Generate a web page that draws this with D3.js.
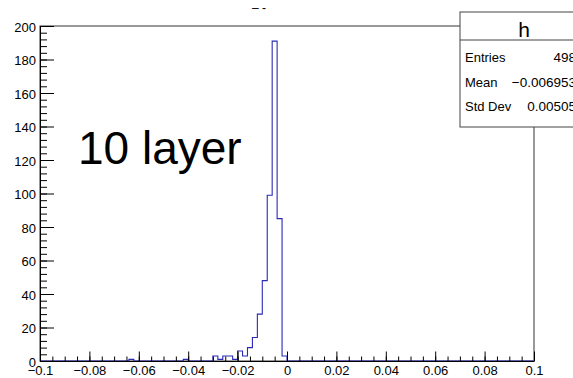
<!DOCTYPE html>
<html>
<head>
<meta charset="utf-8">
<script src="https://cdn.jsdelivr.net/npm/d3@7"></script>
<style>
  body { margin: 0; background: #fff; }
  svg { font-family: "Liberation Sans", Arial, sans-serif; }
</style>
</head>
<body>
<svg id="c" width="573" height="378"></svg>
<script>
// histogram "h": 100 bins from -0.1 to 0.1
const xMin = -0.1, xMax = 0.1, nBins = 100;
const counts = [
  0,0,0,0,0,0,0,0,0,0, 0,0,0,0,0,0,0,0,1,0,
  0,0,0,0,0,0,0,0,0,1, 0,0,0,0,0,3,1,3,3,1,
  6,3,8,14,28,48,99,191,85,3, 0,0,0,0,0,0,0,0,0,0,
  0,0,0,0,0,0,0,0,0,0, 0,0,0,0,0,0,0,0,0,0,
  0,0,0,0,0,0,0,0,0,0, 0,0,0,0,0,0,0,0,0,0
];
const yMax = 200;
const xTicks = [-0.1, -0.08, -0.06, -0.04, -0.02, 0, 0.02, 0.04, 0.06, 0.08, 0.1];
const xTickLabels = ["\u22120.1", "\u22120.08", "\u22120.06", "\u22120.04", "\u22120.02", "0", "0.02", "0.04", "0.06", "0.08", "0.1"];
const yTicks = [0, 20, 40, 60, 80, 100, 120, 140, 160, 180, 200];
const statNames = ["Entries", "Mean", "Std Dev"];
const statValues = ["498", "\u22120.006953", "0.00505"];
const histName = "h";
const label = "10 layer";

const svg = d3.select("#c");
const mLeft = 40, mRight = 534, mTop = 26, mBottom = 361;

const x = d3.scaleLinear().domain([xMin, xMax]).range([mLeft, mRight]);
const y = d3.scaleLinear().domain([0, yMax]).range([mBottom, mTop]);
const bw = (xMax - xMin) / nBins;

// frame
svg.append("rect")
  .attr("x", mLeft).attr("y", mTop)
  .attr("width", mRight - mLeft).attr("height", mBottom - mTop)
  .attr("fill", "#fff").attr("stroke", "#555").attr("stroke-width", 1.2);

// histogram outline (step)
let pts = [[x(xMin), y(0)]];
counts.forEach((c, i) => {
  pts.push([x(xMin + i * bw), y(c)]);
  pts.push([x(xMin + (i + 1) * bw), y(c)]);
});
pts.push([x(xMax), y(0)]);
svg.append("path")
  .attr("d", d3.line()(pts))
  .attr("fill", "none")
  .attr("stroke", "#2a2ab8")
  .attr("stroke-width", 1.1);

// x axis: minor + major ticks pointing up
const xMinor = d3.range(0, 41).map(i => xMin + i * 0.005);
svg.append("g").attr("transform", `translate(0,${mBottom})`)
  .call(d3.axisBottom(x).tickValues(xMinor).tickSize(-4.5).tickFormat(""))
  .call(g => g.select(".domain").remove())
  .call(g => g.selectAll("line").attr("stroke", "#000"));
svg.append("g").attr("transform", `translate(0,${mBottom})`)
  .call(d3.axisBottom(x).tickValues(xTicks).tickSize(-9.5).tickSizeOuter(0).tickPadding(5)
    .tickFormat((d, i) => xTickLabels[i]))
  .call(g => g.select(".domain").attr("stroke", "#000"))
  .call(g => g.selectAll("line").attr("stroke", "#000"))
  .call(g => g.selectAll("text").attr("font-size", 13).attr("fill", "#000")
    .attr("font-family", "Liberation Sans, Arial, sans-serif"));

// y axis: minor + major ticks pointing right
const yMinor = d3.range(0, 51).map(i => i * 4);
svg.append("g").attr("transform", `translate(${mLeft},0)`)
  .call(d3.axisLeft(y).tickValues(yMinor).tickSize(-7).tickFormat(""))
  .call(g => g.select(".domain").remove())
  .call(g => g.selectAll("line").attr("stroke", "#000"));
svg.append("g").attr("transform", `translate(${mLeft},0)`)
  .call(d3.axisLeft(y).tickValues(yTicks).tickSize(-14).tickSizeOuter(0).tickPadding(4))
  .call(g => g.select(".domain").attr("stroke", "#000"))
  .call(g => g.selectAll("line").attr("stroke", "#000"))
  .call(g => g.selectAll("text").attr("font-size", 13).attr("fill", "#000")
    .attr("dy", "0.42em")
    .attr("font-family", "Liberation Sans, Arial, sans-serif"));

// big label
svg.append("text")
  .attr("x", 78).attr("y", 164)
  .attr("font-size", 46)
  .text(label);

// clipped title remnant
svg.append("text")
  .attr("x", 252).attr("y", 11.5)
  .attr("font-size", 12)
  .text("\u2013 -");

// stats box
const bx = 460, by = 12, bwid = 128, bh = 115;
svg.append("rect")
  .attr("x", bx).attr("y", by).attr("width", bwid).attr("height", bh)
  .attr("fill", "#fff").attr("stroke", "#444").attr("stroke-width", 1);
svg.append("line")
  .attr("x1", bx).attr("x2", bx + bwid).attr("y1", 40).attr("y2", 40)
  .attr("stroke", "#444");
svg.append("text")
  .attr("x", bx + bwid / 2).attr("y", 37)
  .attr("text-anchor", "middle").attr("font-size", 21)
  .text(histName);
const rowY = [62, 86.5, 111];
svg.append("g").selectAll("text").data(statNames).join("text")
  .attr("x", 465).attr("y", (d, i) => rowY[i])
  .attr("font-size", 13).text(d => d);
svg.append("g").selectAll("text").data(statValues).join("text")
  .attr("x", 576).attr("y", (d, i) => rowY[i])
  .attr("text-anchor", "end")
  .attr("font-size", 13.5).text(d => d);
</script>
</body>
</html>
